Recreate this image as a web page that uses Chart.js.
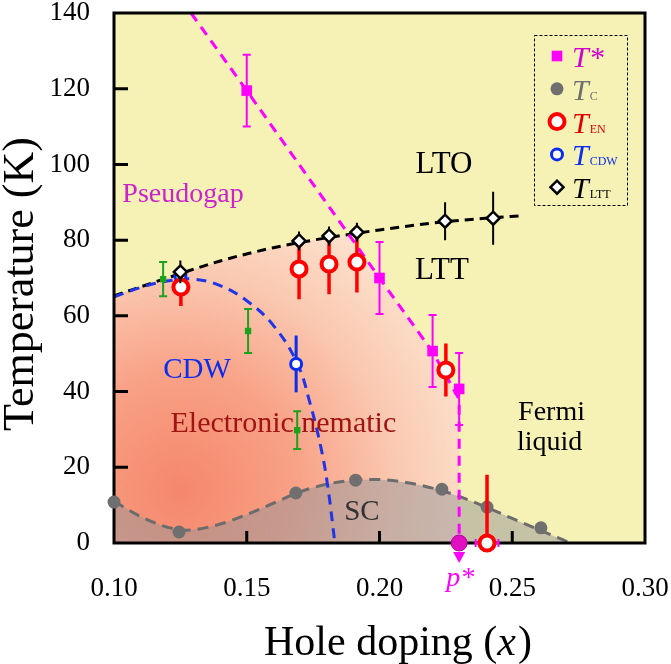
<!DOCTYPE html>
<html>
<head>
<meta charset="utf-8">
<script src="https://cdn.jsdelivr.net/npm/chart.js@4.4.1/dist/chart.umd.min.js"></script>
<style>
html, body { margin: 0; padding: 0; background: #fff; }
#wrap { width: 671px; height: 664px; }
</style>
</head>
<body>
<div id="wrap"><canvas id="grafica" width="671" height="664"></canvas></div>
<script>
// tick labels
const xTicks = [0.10, 0.15, 0.20, 0.25, 0.30];
const yTicks = [0, 20, 40, 60, 80, 100, 120, 140];

// T* (pseudogap), magenta squares
const tStarX = [0.15, 0.20, 0.22, 0.23];
const tStarY = [119.5, 70, 50.7, 40.7];
const tStarErr = [9.5, 9.5, 9.5, 9.5];
// p* point on the axis
const pStarX = [0.23];
const pStarY = [0];

// green squares (not in legend)
const greenX = [0.1185, 0.1505, 0.169];
const greenY = [69.7, 56, 29.8];
const greenErr = [4.5, 5.8, 5];

// Tc
const tcX = [0.10, 0.1245, 0.1685, 0.191, 0.2235, 0.2405, 0.2608];
const tcY = [10.8, 2.9, 13.2, 16.6, 14.2, 9.5, 4.0];

// T_EN
const tenX = [0.1252, 0.1697, 0.181, 0.1915, 0.225, 0.2405];
const tenY = [67.6, 72.4, 73.7, 74.2, 45.7, 0];
const tenErr = [5, 8, 8, 8, 7, 18];
const tenErrX = [0, 0, 0, 0, 0, 0.0043];

// T_CDW
const cdwX = [0.125, 0.1686];
const cdwY = [70.5, 47.3];
const cdwErr = [0, 7.5];

// T_LTT
const lttX = [0.125, 0.1697, 0.181, 0.1915, 0.2247, 0.2428];
const lttY = [71.6, 79.8, 81.1, 82.1, 85, 85.8];
const lttErr = [3, 2.5, 2.5, 2.5, 5, 7];

// guide-to-eye curves
const lttLineX = [0.10, 0.12, 0.14, 0.16, 0.18, 0.1884, 0.20, 0.22, 0.24, 0.2545];
const lttLineY = [65.3, 70, 74.5, 78, 80.6, 81.5, 82.7, 84.5, 85.8, 86.5];
const cdwLineX = [0.10, 0.11, 0.12, 0.13, 0.14, 0.15, 0.16, 0.169, 0.1738, 0.178, 0.1805, 0.1832];
const cdwLineY = [65, 67.5, 69.2, 69.7, 68, 64, 57.5, 47.5, 37, 25, 15, 0];
const pgLineX = [0.129, 0.15, 0.20, 0.1884, 0.22, 0.23, 0.23];
const pgLineY = [140, 119.5, 70, 81.5, 50.5, 38, 0];
const scLineX = [0.10, 0.11, 0.12, 0.1275, 0.14, 0.15, 0.16, 0.17, 0.18, 0.19, 0.1975, 0.21, 0.22, 0.23, 0.24, 0.25, 0.26, 0.272];
const scLineY = [11, 7, 4.2, 3.4, 5, 7.5, 10.5, 13.5, 15.5, 16.6, 16.8, 16, 14.5, 12.3, 9.5, 6.5, 3.5, 0];

const pts = (xs, ys) => xs.map((x, i) => ({ x: x, y: ys[i] })).sort((a, b) => a.x - b.x || b.y - a.y);

// nematic region: LTT line up to the crossing, then the pseudogap line
const cross = 0.1884;
const regionPts = pts(lttLineX, lttLineY).filter(p => p.x <= cross)
  .concat(pts(pgLineX, pgLineY).filter(p => p.x > cross));

const serif = "'Liberation Serif', 'Times New Roman', serif";
const MAG = '#ff00ff';

const graph = document.querySelector('#grafica');

const nematicFill = (c) => {
  const chart = c.chart;
  if (!chart.chartArea) return 'rgba(0,0,0,0)';
  const cx = chart.scales.x.getPixelForValue(0.125);
  const cy = chart.scales.y.getPixelForValue(14);
  const g = chart.ctx.createRadialGradient(cx, cy, 0, cx, cy, 330);
  g.addColorStop(0, '#f5876b');
  g.addColorStop(0.35, '#f8a186');
  g.addColorStop(0.65, '#fac8b0');
  g.addColorStop(1, '#fde9d5');
  return g;
};

const data = {
  datasets: [
    { type: 'line', data: regionPts, fill: 'origin', backgroundColor: nematicFill, borderWidth: 0, pointRadius: 0, tension: 0, order: 20 },
    { type: 'line', data: pts(scLineX, scLineY), fill: 'origin', backgroundColor: 'rgba(150,148,152,0.5)', borderColor: '#6c6c6c', borderWidth: 3, borderDash: [11, 7], pointRadius: 0, cubicInterpolationMode: 'monotone', order: 19 },
    { type: 'line', data: pts(lttLineX, lttLineY), borderColor: '#000', borderWidth: 3, borderDash: [9, 6], pointRadius: 0, cubicInterpolationMode: 'monotone', fill: false, order: 18 },
    { type: 'line', data: pts(cdwLineX, cdwLineY), borderColor: '#1f35e6', borderWidth: 3, borderDash: [10, 7], pointRadius: 0, tension: 0.4, fill: false, order: 17 },
    { type: 'line', data: pts(pgLineX, pgLineY), borderColor: MAG, borderWidth: 3, borderDash: [10, 7], pointRadius: 0, tension: 0, fill: false, order: 16, frameAfter: true },
    { data: pts(greenX, greenY), pointStyle: 'rect', pointRadius: 4.5, backgroundColor: '#1ca21c', borderColor: '#1ca21c', borderWidth: 0,
      errY: greenErr, errColor: '#1ca21c', errWidth: 2, capW: 4, order: 10 },
    { data: pts(tStarX, tStarY), pointStyle: 'rect', pointRadius: 7.5, backgroundColor: MAG, borderColor: MAG, borderWidth: 0,
      errY: tStarErr, errColor: MAG, errWidth: 2, capW: 4, order: 9 },
    { data: pts(tcX, tcY), pointStyle: 'circle', pointRadius: 6.5, backgroundColor: '#6f6f6f', borderColor: '#6f6f6f', borderWidth: 0, clip: false, order: 8 },
    { data: pts(cdwX, cdwY), pointStyle: 'circle', pointRadius: 5.5, backgroundColor: '#fff', borderColor: '#0a2df0', borderWidth: 3,
      errY: cdwErr, errColor: '#0a2df0', errWidth: 3, capW: 0, order: 7 },
    { data: pts(tenX, tenY), pointStyle: 'circle', pointRadius: 7.5, backgroundColor: '#fff', borderColor: '#ff0000', borderWidth: 4, clip: false,
      errY: tenErr, errColor: '#ff0000', errWidth: 3.5, capW: 0, errX: tenErrX, errXColor: MAG, order: 6 },
    { data: pts(lttX, lttY), pointStyle: 'rectRot', pointRadius: 6.5, backgroundColor: '#fff', borderColor: '#000', borderWidth: 2.5,
      errY: lttErr, errColor: '#000', errWidth: 2, capW: 0, order: 5 },
    { data: pts(pStarX, pStarY), pointStyle: 'circle', pointRadius: 8, backgroundColor: '#e010c0', borderColor: '#c000a8', borderWidth: 1, clip: false, order: 4 }
  ]
};

// legend rows: dataset index, main text, subscript, text colour
const legendRows = [
  { ds: 6, main: 'T*', sub: '', color: '#d000d0' },
  { ds: 7, main: 'T', sub: 'C', color: '#6f6f6f' },
  { ds: 9, main: 'T', sub: 'EN', color: '#e00000' },
  { ds: 8, main: 'T', sub: 'CDW', color: '#0a2df0' },
  { ds: 10, main: 'T', sub: 'LTT', color: '#000' }
];

// text labels in data coordinates
const notes = [
  { text: 'Pseudogap', x: 0.126, y: 90.1, color: '#cc22cc', size: 28, align: 'center' },
  { text: 'LTO', x: 0.2243, y: 97.7, color: '#000', size: 31, align: 'center' },
  { text: 'LTT', x: 0.2235, y: 69.7, color: '#000', size: 31, align: 'center' },
  { text: 'CDW', x: 0.1313, y: 43.6, color: '#0a2df0', size: 29, align: 'center' },
  { text: 'Electronic nematic', x: 0.1638, y: 29.3, color: '#a01414', size: 30, align: 'center' },
  { text: 'Fermi', x: 0.2522, y: 32.5, color: '#000', size: 28, align: 'left' },
  { text: 'liquid', x: 0.2518, y: 24.6, color: '#000', size: 28, align: 'left' },
  { text: 'SC', x: 0.1934, y: 6.1, color: '#333', size: 29, align: 'center' }
];

function drawFrame(chart) {
  const { ctx, chartArea: a, scales } = chart;
  ctx.save();
  ctx.strokeStyle = '#000';
  ctx.lineWidth = 3;
  ctx.strokeRect(a.left, a.top, a.width, a.height);
  ctx.beginPath();
  xTicks.forEach(v => {
    const px = scales.x.getPixelForValue(v);
    if (px > a.left + 2 && px < a.right - 2) { ctx.moveTo(px, a.bottom); ctx.lineTo(px, a.bottom - 12); }
  });
  yTicks.forEach(v => {
    const py = scales.y.getPixelForValue(v);
    if (py > a.top + 2 && py < a.bottom - 2) { ctx.moveTo(a.left, py); ctx.lineTo(a.left + 14, py); }
  });
  ctx.stroke();
  ctx.restore();
}

const decorations = {
  id: 'decorations',
  beforeDraw(chart) {
    const { ctx, chartArea: a } = chart;
    ctx.save();
    ctx.fillStyle = '#f6f1b5';
    ctx.fillRect(a.left, a.top, a.width, a.height);
    ctx.restore();
  },
  beforeDatasetDraw(chart, args) {
    const ds = chart.data.datasets[args.index];
    if (!ds.errY) return;
    const { ctx, chartArea: a, scales } = chart;
    ctx.save();
    ctx.beginPath();
    ctx.rect(a.left, a.top, a.width, a.height);
    ctx.clip();
    ctx.strokeStyle = ds.errColor;
    ctx.lineWidth = ds.errWidth;
    ctx.beginPath();
    ds.data.forEach((p, i) => {
      const e = ds.errY[i];
      if (!e) return;
      const px = scales.x.getPixelForValue(p.x);
      const y1 = scales.y.getPixelForValue(p.y + e);
      const y2 = scales.y.getPixelForValue(p.y - e);
      ctx.moveTo(px, y1); ctx.lineTo(px, y2);
      if (ds.capW) {
        ctx.moveTo(px - ds.capW, y1); ctx.lineTo(px + ds.capW, y1);
        ctx.moveTo(px - ds.capW, y2); ctx.lineTo(px + ds.capW, y2);
      }
    });
    ctx.stroke();
    ctx.restore();
    if (ds.errX) {
      ctx.save();
      ctx.strokeStyle = ds.errXColor;
      ctx.lineWidth = 2;
      ctx.beginPath();
      ds.data.forEach((p, i) => {
        const e = ds.errX[i];
        if (!e) return;
        const x1 = scales.x.getPixelForValue(p.x - e);
        const x2 = scales.x.getPixelForValue(p.x + e);
        const py = scales.y.getPixelForValue(p.y);
        ctx.moveTo(x1, py); ctx.lineTo(x2, py);
        ctx.moveTo(x1, py - 4); ctx.lineTo(x1, py + 4);
        ctx.moveTo(x2, py - 4); ctx.lineTo(x2, py + 4);
      });
      ctx.stroke();
      ctx.restore();
    }
  },
  afterDatasetDraw(chart, args) {
    if (chart.data.datasets[args.index].frameAfter) drawFrame(chart);
  },
  afterDraw(chart) {
    const { ctx, chartArea: a, scales } = chart;
    ctx.save();
    ctx.textBaseline = 'alphabetic';

    // region labels
    notes.forEach(n => {
      ctx.font = n.size + 'px ' + serif;
      ctx.fillStyle = n.color;
      ctx.textAlign = n.align;
      ctx.fillText(n.text, scales.x.getPixelForValue(n.x), scales.y.getPixelForValue(n.y));
    });

    // p* arrow and label
    const pp = chart.getDatasetMeta(11).data[0];
    ctx.fillStyle = MAG;
    ctx.beginPath();
    ctx.moveTo(pp.x - 6, pp.y + 9);
    ctx.lineTo(pp.x + 6, pp.y + 9);
    ctx.lineTo(pp.x, pp.y + 20);
    ctx.closePath();
    ctx.fill();
    ctx.font = 'italic 28px ' + serif;
    ctx.textAlign = 'center';
    ctx.fillText('p*', pp.x + 1, a.bottom + 43);

    // legend
    const lx = 534, ly = 35, lw = 93, lh = 170;
    ctx.strokeStyle = '#000';
    ctx.lineWidth = 1;
    ctx.setLineDash([3, 2]);
    ctx.strokeRect(lx + 0.5, ly + 0.5, lw, lh);
    ctx.setLineDash([]);
    legendRows.forEach((r, i) => {
      const ds = chart.data.datasets[r.ds];
      const my = 56 + i * 32.8;
      ctx.fillStyle = ds.backgroundColor;
      ctx.strokeStyle = ds.borderColor;
      ctx.lineWidth = ds.borderWidth;
      Chart.helpers.drawPoint(ctx, { pointStyle: ds.pointStyle, radius: ds.pointRadius, rotation: 0, borderWidth: ds.borderWidth }, 557, my);
      ctx.fillStyle = r.color;
      ctx.textAlign = 'left';
      ctx.font = 'italic 30px ' + serif;
      ctx.fillText(r.main, 572, my + 11);
      if (r.sub) {
        const w = ctx.measureText(r.main).width;
        ctx.font = '12px ' + serif;
        ctx.fillText(r.sub, 572 + w + 1, my + 11);
      }
    });

    // x title with italic x
    const t1 = 'Hole doping (', t2 = 'x', t3 = ')';
    ctx.fillStyle = '#000';
    ctx.font = '42px ' + serif;
    const w1 = ctx.measureText(t1).width, w3 = ctx.measureText(t3).width;
    ctx.font = 'italic 42px ' + serif;
    const w2 = ctx.measureText(t2).width;
    let sx = 397 - (w1 + w2 + w3) / 2;
    ctx.textAlign = 'left';
    ctx.font = '42px ' + serif;
    ctx.fillText(t1, sx, 655);
    ctx.font = 'italic 42px ' + serif;
    ctx.fillText(t2, sx + w1, 655);
    ctx.font = '42px ' + serif;
    ctx.fillText(t3, sx + w1 + w2 + 2, 655);

    // y title
    ctx.translate(33, 284);
    ctx.rotate(-Math.PI / 2);
    ctx.textAlign = 'center';
    ctx.font = '44px ' + serif;
    ctx.fillText('Temperature (K)', 0, 0);
    ctx.restore();
  }
};

const config = {
  type: 'scatter',
  data: data,
  options: {
    responsive: false,
    animation: false,
    layout: { padding: { top: 13, right: 26, left: 0, bottom: 0 } },
    plugins: { legend: { display: false }, tooltip: { enabled: false } },
    scales: {
      x: {
        type: 'linear', min: 0.1, max: 0.3,
        afterBuildTicks: s => { s.ticks = xTicks.map(v => ({ value: v })); },
        afterFit: s => { s.height = 121; s.paddingLeft = 0; s.paddingRight = 0; },
        grid: { display: false }, border: { display: false },
        ticks: { padding: 22, color: '#000', autoSkip: false, maxRotation: 0,
          font: { family: serif, size: 27 }, callback: v => Number(v).toFixed(2) }
      },
      y: {
        type: 'linear', min: 0, max: 140,
        afterBuildTicks: s => { s.ticks = yTicks.map(v => ({ value: v })); },
        afterFit: s => { s.width = 114; s.paddingTop = 0; s.paddingBottom = 0; },
        grid: { display: false }, border: { display: false },
        ticks: { padding: 16, color: '#000', autoSkip: false, font: { family: serif, size: 27 } }
      }
    }
  },
  plugins: [decorations]
};

new Chart(graph, config);
</script>
</body>
</html>
